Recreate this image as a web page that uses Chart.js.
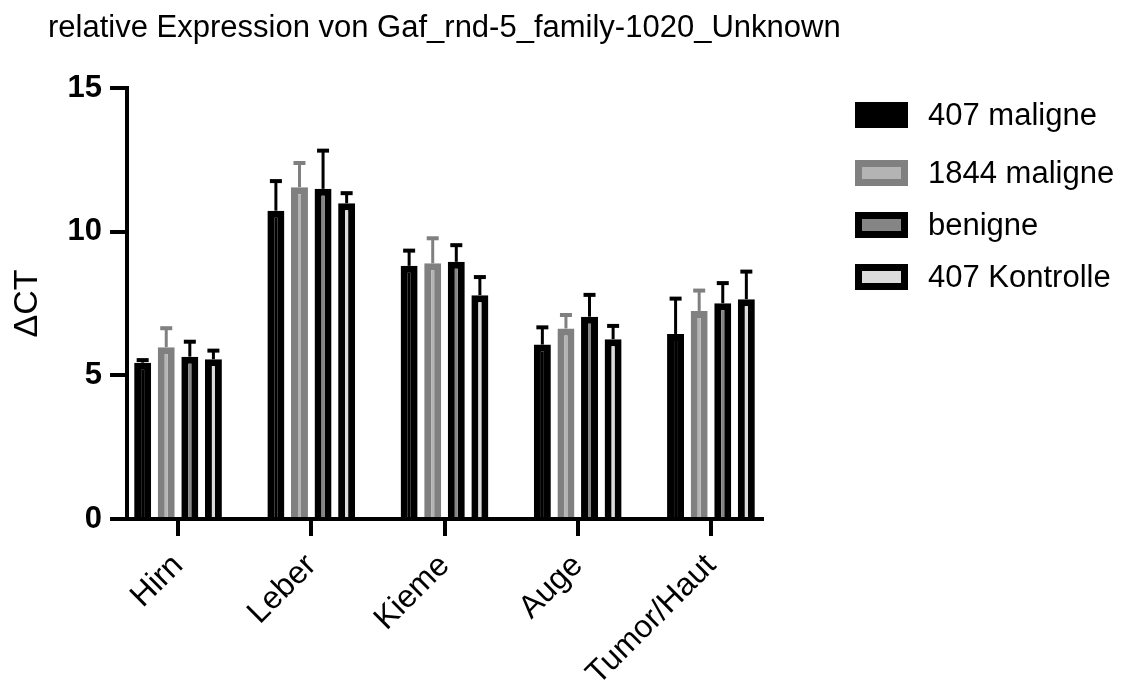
<!DOCTYPE html>
<html>
<head>
<meta charset="utf-8">
<script src="https://cdn.jsdelivr.net/npm/chart.js@4"></script>
<style>
  body { margin: 0; background: #fff; }
  #wrap { width: 1123px; height: 682px; position: relative; }
</style>
</head>
<body>
<div id="wrap"><canvas id="exprChart"></canvas></div>
<script>
// Daten
const categories = ['Hirn', 'Leber', 'Kieme', 'Auge', 'Tumor/Haut'];
const seriesNames = ['407 maligne', '1844 maligne', 'benigne', '407 Kontrolle'];

const maligne407 = [5.44, 10.73, 8.81, 6.07, 6.44];
const maligne407Err = [0.09, 1.03, 0.53, 0.60, 1.23];
const maligne1844 = [5.98, 11.55, 8.90, 6.63, 7.24];
const maligne1844Err = [0.66, 0.84, 0.87, 0.47, 0.71];
const benigne = [5.65, 11.49, 8.95, 7.04, 7.51];
const benigneErr = [0.52, 1.33, 0.58, 0.76, 0.70];
const kontrolle407 = [5.56, 10.99, 7.79, 6.26, 7.65];
const kontrolle407Err = [0.30, 0.35, 0.63, 0.46, 0.96];

const yTicks = [0, 5, 10, 15];
const chartTitle = 'relative Expression von Gaf_rnd-5_family-1020_Unknown';

const FONT = '"Liberation Sans", Arial, sans-serif';

const series = [
  { values: maligne407, err: maligne407Err, fill: '#000000', border: '#000000' },
  { values: maligne1844, err: maligne1844Err, fill: '#b4b4b4', border: '#808080' },
  { values: benigne, err: benigneErr, fill: '#858585', border: '#000000' },
  { values: kontrolle407, err: kontrolle407Err, fill: '#dcdcdc', border: '#000000' }
];

const datasets = series.map((s, i) => ({
  label: seriesNames[i],
  data: s.values.map((v, j) => ({ x: j, y: v })),
  errors: s.err,
  backgroundColor: s.fill,
  borderColor: s.border,
  borderWidth: 7,
  categoryPercentage: 0.708,
  barPercentage: 0.72
}));

// Fehlerbalken, Titel und Legende
const extras = {
  id: 'extras',
  afterDatasetsDraw(chart) {
    const ctx = chart.ctx;
    const yScale = chart.scales.y;
    chart.data.datasets.forEach((ds, di) => {
      const meta = chart.getDatasetMeta(di);
      ctx.save();
      ctx.strokeStyle = ds.borderColor;
      meta.data.forEach((bar, j) => {
        const top = yScale.getPixelForValue(ds.data[j].y + ds.errors[j]);
        ctx.lineWidth = 3;
        ctx.beginPath();
        ctx.moveTo(bar.x, bar.y);
        ctx.lineTo(bar.x, top);
        ctx.stroke();
        ctx.lineWidth = 4;
        ctx.beginPath();
        ctx.moveTo(bar.x - 6, top);
        ctx.lineTo(bar.x + 6, top);
        ctx.stroke();
      });
      ctx.restore();
    });
  },
  afterDraw(chart) {
    const ctx = chart.ctx;
    ctx.save();
    ctx.fillStyle = '#000';
    ctx.font = '31px ' + FONT;
    ctx.textBaseline = 'alphabetic';
    ctx.textAlign = 'left';
    ctx.fillText(chartTitle, 48, 37);

    // Legende
    const rows = [115, 173, 225, 277];
    chart.data.datasets.forEach((ds, i) => {
      const x = 855, w = 53, h = 26, y = rows[i] - h / 2;
      ctx.fillStyle = ds.borderColor;
      ctx.fillRect(x, y, w, h);
      ctx.fillStyle = ds.backgroundColor;
      ctx.fillRect(x + 7, y + 7, w - 14, h - 14);
      ctx.fillStyle = '#000';
      ctx.textBaseline = 'middle';
      ctx.fillText(ds.label, 928, rows[i] + 1);
    });
    ctx.restore();
  }
};

new Chart(document.getElementById('exprChart'), {
  type: 'bar',
  data: { datasets: datasets },
  plugins: [extras],
  options: {
    responsive: true,
    maintainAspectRatio: false,
    animation: false,
    layout: { padding: { top: 88, right: 361, bottom: 0, left: 0 } },
    plugins: {
      legend: { display: false },
      title: { display: false },
      tooltip: { enabled: false }
    },
    scales: {
      x: {
        type: 'linear',
        min: -0.383,
        max: 4.383,
        offset: false,
        afterFit: s => { s.height = 163; },
        afterBuildTicks: s => { s.ticks = categories.map((c, i) => ({ value: i })); },
        border: { color: '#000', width: 4 },
        grid: { offset: false, drawOnChartArea: false, color: '#000', lineWidth: 4, tickLength: 17 },
        ticks: {
          color: '#000',
          font: { family: FONT, size: 32 },
          minRotation: 45,
          maxRotation: 45,
          autoSkip: false,
          padding: 11,
          callback: v => categories[v]
        }
      },
      y: {
        min: 0,
        max: 15,
        afterFit: s => { s.width = 127; },
        afterBuildTicks: s => { s.ticks = yTicks.map(v => ({ value: v })); },
        border: { color: '#000', width: 4 },
        grid: { drawOnChartArea: false, color: '#000', lineWidth: 4, tickLength: 17 },
        ticks: {
          color: '#000',
          font: { family: FONT, size: 31, weight: 'bold' },
          padding: 8
        },
        title: {
          display: true,
          text: 'ΔCT',
          color: '#000',
          font: { family: FONT, size: 34 },
          padding: { top: 7, bottom: 0 }
        }
      }
    }
  }
});
</script>
</body>
</html>
